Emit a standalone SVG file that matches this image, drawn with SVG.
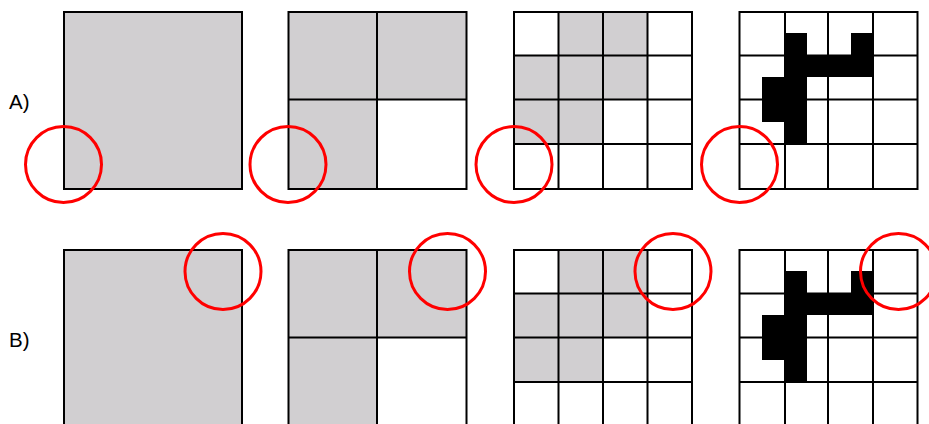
<svg xmlns="http://www.w3.org/2000/svg" width="929" height="424" viewBox="0 0 929 424">
<style>
.bg{fill:#ffffff}
.g{fill:#d1cfd1;stroke:none}
.w{fill:#ffffff;stroke:none}
.ln{stroke:#000;stroke-width:2;fill:none}
.blk{fill:#000;stroke:none}
.c{fill:none;stroke:#ff0000;stroke-width:3}
.lbl{font-family:"Liberation Sans",Arial,sans-serif;font-size:20.5px;fill:#000}
</style>
<rect class="bg" x="0" y="0" width="929" height="424"/>
<defs>
<g id="p1">
<rect class="g" x="64" y="12" width="178" height="177"/>
<rect class="ln" x="64" y="12" width="178" height="177"/>
</g>
<g id="p2">
<rect class="g" x="288.5" y="12" width="178" height="177"/>
<rect class="w" x="377" y="99.5" width="89.5" height="89.5"/>
<rect class="ln" x="288.5" y="12" width="178" height="177"/>
<path class="ln" d="M377,12V189M288.5,99.5H466.5"/>
</g>
<g id="p3">
<rect class="w" x="514" y="12" width="178" height="177"/>
<rect class="g" x="558.5" y="12" width="89" height="43.5"/>
<rect class="g" x="514" y="55.5" width="133.5" height="44"/>
<rect class="g" x="514" y="99.5" width="89" height="44.5"/>
<rect class="ln" x="514" y="12" width="178" height="177"/>
<path class="ln" d="M558.5,12V189M603,12V189M647.5,12V189M514,55.5H692M514,99.5H692M514,144H692"/>
</g>
<g id="p4">
<rect class="w" x="739.5" y="12" width="178" height="177"/>
<rect class="ln" x="739.5" y="12" width="178" height="177"/>
<path class="ln" d="M785,12V189M828,12V189M873,12V189M739.5,55.5H917.5M739.5,99.5H917.5M739.5,144H917.5"/>
<polygon class="blk" points="785,33 807,33 807,55.5 851,55.5 851,33 873,33 873,77 807,77 807,144 785,144 785,122 762,122 762,77 785,77"/>
</g>
</defs>
<g id="rowA">
<text class="lbl" x="9" y="109">A)</text>
<g id="A1"><use href="#p1"/></g>
<g id="A2"><use href="#p2"/></g>
<g id="A3"><use href="#p3"/></g>
<g id="A4"><use href="#p4"/></g>
</g>
<g id="rowB">
<text class="lbl" x="9" y="347">B)</text>
<g id="B1" transform="translate(0,238)"><use href="#p1"/></g>
<g id="B2" transform="translate(0,238)"><use href="#p2"/></g>
<g id="B3" transform="translate(0,238)"><use href="#p3"/></g>
<g id="B4" transform="translate(0,238)"><use href="#p4"/></g>
</g>
<g id="circles">
<circle class="c" cx="63.5" cy="164.5" r="38"/>
<circle class="c" cx="288" cy="164.5" r="38"/>
<circle class="c" cx="514" cy="164.5" r="38"/>
<circle class="c" cx="739.5" cy="164.5" r="38"/>
<circle class="c" cx="223" cy="271.5" r="38"/>
<circle class="c" cx="447.5" cy="271.5" r="38"/>
<circle class="c" cx="673" cy="271.5" r="38"/>
<circle class="c" cx="898.5" cy="271.5" r="38"/>
</g>
</svg>
